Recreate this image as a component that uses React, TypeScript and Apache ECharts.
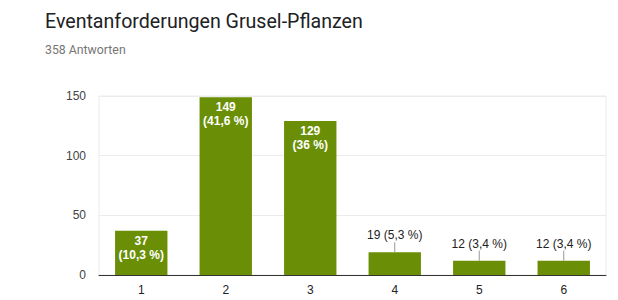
import React, { useEffect, useRef } from "react";
import * as echarts from "echarts";

const titleText = "Eventanforderungen Grusel-Pflanzen";
const subtitleText = "358 Antworten";
const totalAnswers = 358;
const categories = ["1", "2", "3", "4", "5", "6"];
const counts = [37, 149, 129, 19, 12, 12];
const yTicks = { min: 0, max: 150, interval: 50 };
const insideThreshold = 30;

const BAR_COLOR = "#6a8f06";
const FONT = "'Liberation Sans', Arial, sans-serif";

function pct(v: number): string {
  const p = Math.round((v / totalAnswers) * 1000) / 10;
  let s = p.toFixed(1);
  if (s.endsWith(".0")) s = s.slice(0, -2);
  return s.replace(".", ",") + " %";
}

export default function App() {
  const ref = useRef<HTMLDivElement>(null);
  useEffect(() => {
    if (!ref.current) return;
    const chart = echarts.init(ref.current, undefined, { renderer: "svg" });
    const barData = counts.map((v) => {
      const inside = v >= insideThreshold;
      return {
        value: v,
        label: inside
          ? {
              show: true,
              position: "insideTop",
              distance: 3,
              color: "#ffffff",
              fontSize: 12,
              fontWeight: "bold",
              lineHeight: 14,
              fontFamily: FONT,
              formatter: () => `${v}\n(${pct(v)})`,
            }
          : {
              show: true,
              position: "top",
              distance: 11,
              color: "#222222",
              fontSize: 12,
              fontFamily: FONT,
              formatter: () => `${v} (${pct(v)})`,
            },
      };
    });
    chart.setOption({
      animation: false,
      title: [
        {
          text: titleText,
          left: 40,
          top: 6,
          textStyle: {
            fontFamily: "Roboto, sans-serif",
            fontSize: 19.6,
            fontWeight: "normal",
            color: "#202124",
          },
        },
        {
          text: subtitleText,
          left: 40,
          top: 39,
          textStyle: {
            fontFamily: "Roboto, sans-serif",
            fontSize: 12.3,
            fontWeight: "normal",
            color: "#757575",
          },
        },
      ],
      grid: {
        left: 99,
        right: 12,
        top: 96,
        bottom: 25,
        show: true,
        borderColor: "#ebebeb",
        borderWidth: 1,
        backgroundColor: "transparent",
      },
      xAxis: {
        type: "category",
        data: categories,
        axisLine: { lineStyle: { color: "#333333", width: 1 } },
        axisTick: { show: false },
        axisLabel: { color: "#222222", fontSize: 12, fontFamily: FONT, margin: 9 },
      },
      yAxis: {
        type: "value",
        min: yTicks.min,
        max: yTicks.max,
        interval: yTicks.interval,
        axisLine: { show: false },
        axisTick: { show: false },
        axisLabel: { color: "#444444", fontSize: 12, fontFamily: FONT, margin: 13 },
        splitLine: { lineStyle: { color: "#ebebeb", width: 1 } },
      },
      series: [
        {
          type: "bar",
          data: barData,
          barWidth: "62%",
          itemStyle: { color: BAR_COLOR },
        },
        {
          type: "custom",
          data: counts.map((v, i) => [i, v]),
          renderItem: (params: any, api: any) => {
            const v = api.value(1);
            if (v >= insideThreshold) return null;
            const p = api.coord([api.value(0), v]);
            return {
              type: "line",
              shape: { x1: p[0], y1: p[1], x2: p[0], y2: p[1] - 10 },
              style: { stroke: "#999999", lineWidth: 1 },
            };
          },
          z: 5,
        },
      ],
    });
    return () => chart.dispose();
  }, []);
  return <div ref={ref} style={{ width: 618, height: 300, position: "absolute", left: 0, top: 0 }} />;
}
